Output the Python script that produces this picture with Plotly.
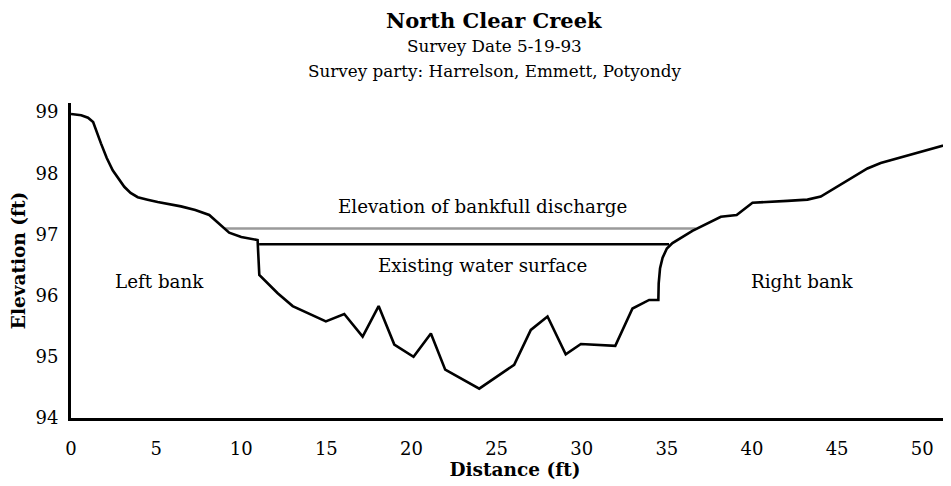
import plotly.graph_objects as go

# Cross-section survey (distance in ft, elevation in ft)
distance = [0, 0.6, 1.0, 1.3, 1.76, 2.1, 2.45, 2.8, 3.13, 3.5, 3.92, 4.5, 5.09, 6.46, 7.3, 8.12,
            8.7, 9.29, 10.0, 10.96, 11.06, 12.14, 13.02, 14.97, 16.05, 17.13, 18.07, 18.99,
            20.12, 21.14, 21.98, 23.98, 26.03, 27.01, 27.99, 29.06, 29.95, 31.97, 32.98,
            33.96, 34.5, 34.52, 34.6, 34.75, 35.0, 35.33, 36.5, 38.17, 39.1, 40.03, 42.08,
            43.26, 44.04, 44.8, 45.61, 46.2, 46.78, 47.56, 52.2]
elevation = [98.97, 98.95, 98.91, 98.84, 98.49, 98.25, 98.05, 97.9, 97.78, 97.68, 97.61, 97.57,
             97.53, 97.46, 97.4, 97.32, 97.18, 97.03, 96.96, 96.91, 96.34, 96.04, 95.83, 95.58,
             95.70, 95.33, 95.83, 95.20, 95.00, 95.38, 94.79, 94.48, 94.87, 95.44, 95.66,
             95.04, 95.21, 95.18, 95.79, 95.93, 95.93, 96.2, 96.45, 96.62, 96.77, 96.86,
             97.06, 97.29, 97.32, 97.52, 97.55, 97.57, 97.62, 97.75, 97.89, 97.99, 98.08,
             98.17, 98.53]

bankfull_x = [9.0, 36.7]
bankfull_y = [97.10, 97.10]
water_x = [11.05, 35.13]
water_y = [96.84, 96.84]

labels_text = ["Elevation of bankfull discharge", "Existing water surface", "Left bank", "Right bank"]
labels_x = [24.17, 24.17, 5.19, 42.96]
labels_y = [97.45, 96.50, 96.23, 96.23]

x_ticks = [0, 5, 10, 15, 20, 25, 30, 35, 40, 45, 50]
y_ticks = [94, 95, 96, 97, 98, 99]

FONT = "DejaVu Serif"

fig = go.Figure()
fig.add_trace(go.Scatter(x=bankfull_x, y=bankfull_y, mode="lines",
                         line=dict(color="#9a9a9a", width=2.5), hoverinfo="skip"))
fig.add_trace(go.Scatter(x=water_x, y=water_y, mode="lines",
                         line=dict(color="black", width=2.5), hoverinfo="skip"))
fig.add_trace(go.Scatter(x=distance, y=elevation, mode="lines",
                         line=dict(color="black", width=2.6), cliponaxis=True))

for t, x, y in zip(labels_text, labels_x, labels_y):
    fig.add_annotation(x=x, y=y, text=t, showarrow=False,
                       font=dict(family=FONT, size=18.3, color="black"))

fig.add_annotation(xref="paper", yref="paper", x=0.4765, y=1.263, text="<b>North Clear Creek</b>",
                   showarrow=False, font=dict(family=FONT, size=21, color="black"), yanchor="middle")
fig.add_annotation(xref="paper", yref="paper", x=0.4765, y=1.18, text="Survey Date 5-19-93",
                   showarrow=False, font=dict(family=FONT, size=16.8, color="black"), yanchor="middle")
fig.add_annotation(xref="paper", yref="paper", x=0.4765, y=1.10,
                   text="Survey party: Harrelson, Emmett, Potyondy",
                   showarrow=False, font=dict(family=FONT, size=16.8, color="black"), yanchor="middle")

fig.update_layout(
    width=951, height=486,
    margin=dict(l=62.7, r=0, t=95, b=75.7, autoexpand=False),
    paper_bgcolor="white", plot_bgcolor="white",
    showlegend=False,
    font=dict(family=FONT, size=18, color="black"),
    xaxis=dict(range=[0, 52.16], tickvals=x_ticks, showgrid=False, zeroline=False,
               showline=True, linecolor="black", linewidth=3, ticks="",
               ticklabelstandoff=12, tickfont=dict(size=18),
               title=dict(text="<b>Distance (ft)</b>", font=dict(family=FONT, size=18.5), standoff=4)),
    yaxis=dict(range=[94, 99.15], tickvals=y_ticks, showgrid=False, zeroline=False,
               showline=True, linecolor="black", linewidth=3, ticks="",
               ticklabelstandoff=6, tickfont=dict(size=18),
               title=dict(text="<b>Elevation (ft)</b>", font=dict(family=FONT, size=18.5), standoff=7)),
)

fig.write_html("out.html")
